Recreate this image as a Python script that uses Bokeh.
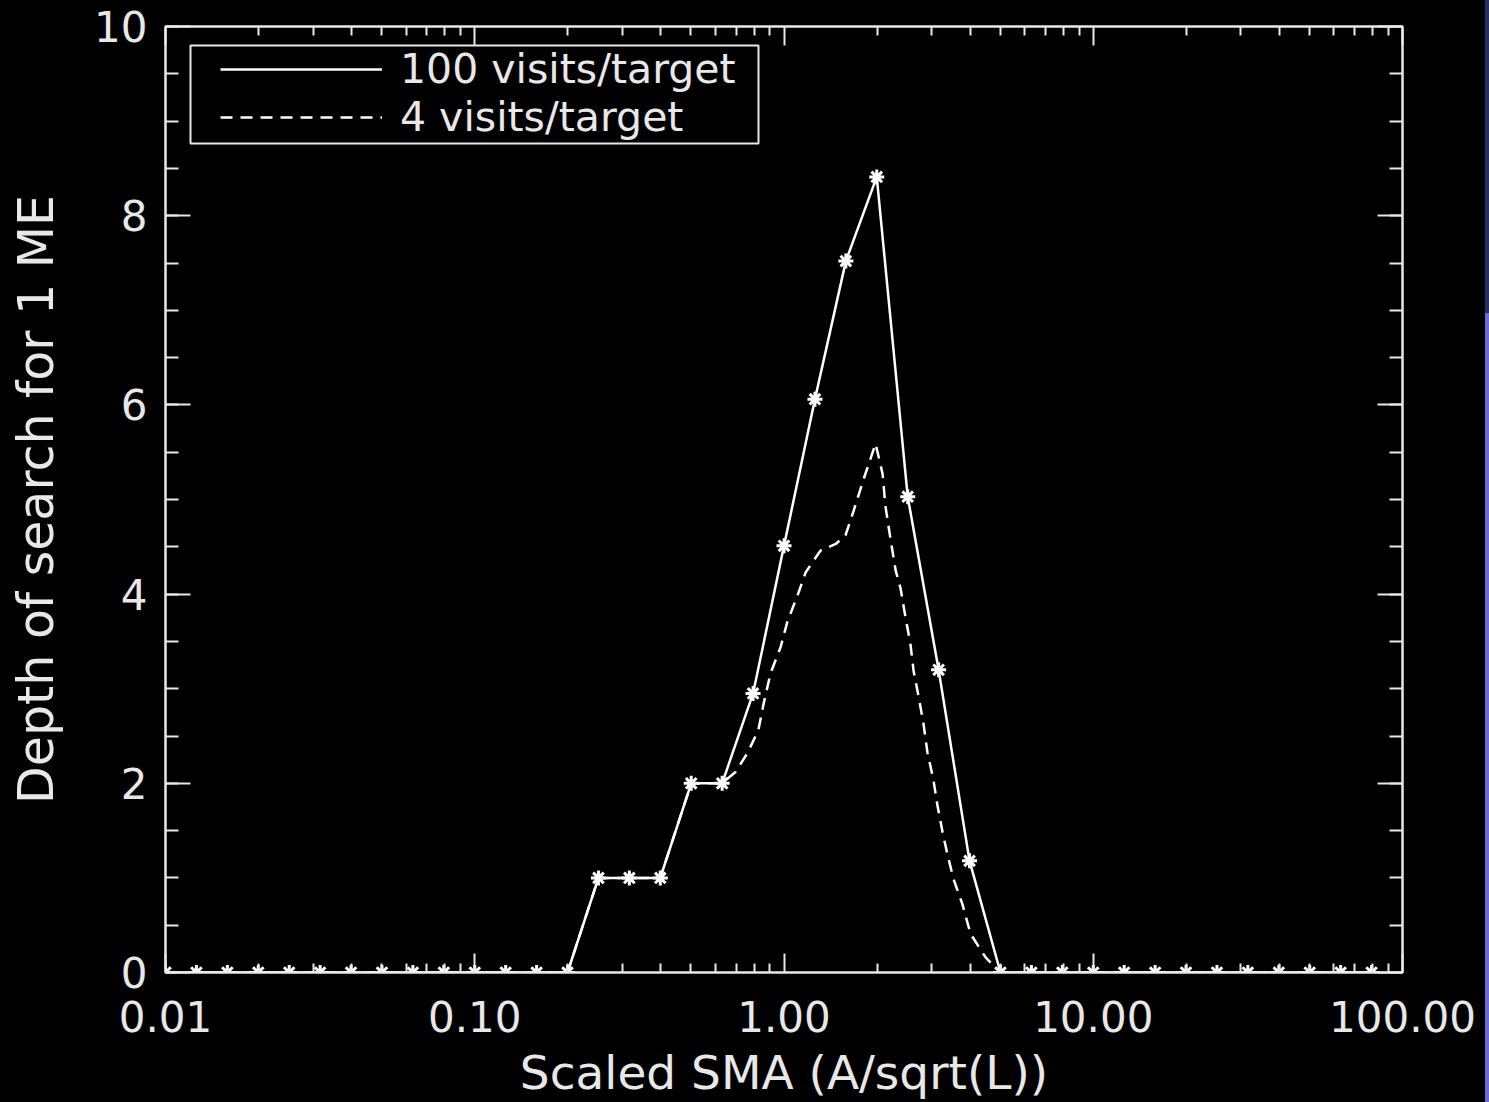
from bokeh.plotting import figure
from bokeh.models import (Range1d, LinearAxis, LogAxis, FixedTicker, SingleIntervalTicker,
                          CustomJSTickFormatter, Legend, LegendItem, BoxAnnotation)
from bokeh.embed import file_html
from bokeh.resources import INLINE

# ---------------- data ----------------
sma_100 = [0.01, 0.01259, 0.01585, 0.01995, 0.02512, 0.03162, 0.03981, 0.05012, 0.0631, 0.07943,
           0.1, 0.1259, 0.1585, 0.1995, 0.2512, 0.3162, 0.3981, 0.5012, 0.631, 0.7943,
           1.0, 1.259, 1.585, 1.995, 2.512, 3.162, 3.981, 5.012, 6.31, 7.943,
           10.0, 12.59, 15.85, 19.95, 25.12, 31.62, 39.81, 50.12, 63.1, 79.43]
depth_100 = [0, 0, 0, 0, 0, 0, 0, 0, 0, 0,
             0, 0, 0, 0, 1, 1, 1, 2, 2, 2.95,
             4.51, 6.06, 7.52, 8.41, 5.03, 3.20, 1.18, 0, 0, 0,
             0, 0, 0, 0, 0, 0, 0, 0, 0, 0]

sma_4 = [0.01, 0.01259, 0.01585, 0.01995, 0.02512, 0.03162, 0.03981, 0.05012, 0.0631, 0.07943,
         0.1, 0.1259, 0.1585, 0.1995, 0.2512, 0.3162, 0.3981, 0.5012, 0.631,
         0.697, 0.762, 0.826, 0.859, 0.904, 0.975, 1.026, 1.107, 1.175, 1.312,
         1.47, 1.581, 1.679, 1.807, 1.977, 2.084, 2.128, 2.208, 2.296, 2.382,
         2.472, 2.564, 2.624, 2.723, 2.825, 2.911, 3.041, 3.133, 3.258, 3.381,
         3.532, 3.776, 4.009, 4.487, 5.012, 6.31, 7.943,
         10.0, 12.59, 15.85, 19.95, 25.12, 31.62, 39.81, 50.12, 63.1, 79.43]
depth_4 = [0, 0, 0, 0, 0, 0, 0, 0, 0, 0,
           0, 0, 0, 0, 1, 1, 1, 2, 2,
           2.12, 2.32, 2.56, 2.84, 3.16, 3.44, 3.71, 3.99, 4.23, 4.46,
           4.53, 4.62, 4.88, 5.21, 5.59, 5.27, 4.93, 4.59, 4.25, 4.06,
           3.75, 3.47, 3.19, 2.92, 2.63, 2.32, 2.04, 1.77, 1.48, 1.24,
           0.99, 0.72, 0.41, 0.16, 0, 0, 0,
           0, 0, 0, 0, 0, 0, 0, 0, 0, 0]

x_ticks = [0.01, 0.1, 1.0, 10.0, 100.0]
x_tick_labels = ["0.01", "0.10", "1.00", "10.00", "100.00"]
series_labels = ["100 visits/target", "4 visits/target"]

# ---------------- style ----------------
FG = "#e8e8e8"
FONT = "DejaVu Sans"
FRAME_TOP, FRAME_BOTTOM = 26, 972

p = figure(width=1485, height=1102, x_axis_type="log",
           x_range=Range1d(0.01, 100), y_range=Range1d(0, 10),
           min_border_left=165, min_border_right=83, min_border_top=FRAME_TOP,
           min_border_bottom=1102 - FRAME_BOTTOM,
           output_backend="svg", toolbar_location=None,
           background_fill_color="black", border_fill_color="black")
p.grid.visible = False
p.outline_line_color = FG
p.outline_line_width = 2

minor_x = [m * 10.0 ** e for e in range(-2, 2) for m in range(2, 10)]
xticker = FixedTicker(ticks=x_ticks, minor_ticks=minor_x)
xfmt = CustomJSTickFormatter(args=dict(t=x_ticks, l=x_tick_labels), code="""
let best = 0, d = Infinity;
for (let i = 0; i < t.length; i++) { const dd = Math.abs(Math.log10(t[i]) - Math.log10(tick)); if (dd < d) { d = dd; best = i; } }
return l[best];
""")


def style_axis(ax, major_in, minor_in, labels=True):
    ax.axis_line_color = FG
    ax.axis_line_width = 2
    ax.major_tick_line_color = FG
    ax.minor_tick_line_color = FG
    ax.major_tick_line_width = 2
    ax.minor_tick_line_width = 2
    ax.major_tick_in = major_in
    ax.major_tick_out = 0
    ax.minor_tick_in = minor_in
    ax.minor_tick_out = 0
    ax.major_label_text_color = FG
    ax.major_label_text_font = FONT
    ax.major_label_text_font_size = "42px"
    if not labels:
        ax.major_label_text_alpha = 0
        ax.major_label_text_font_size = "2px"
    ax.axis_label_text_color = FG
    ax.axis_label_text_font = FONT
    ax.axis_label_text_font_size = "47px"
    ax.axis_label_text_font_style = "normal"


xa = p.xaxis[0]
xa.ticker = xticker
xa.formatter = xfmt
xa.axis_label = "Scaled SMA (A/sqrt(L))"
xa.major_label_standoff = 28
xa.axis_label_standoff = 10
style_axis(xa, 19, 9)

ya = p.yaxis[0]
ya.ticker = SingleIntervalTicker(interval=2, num_minor_ticks=4)
ya.axis_label = "Depth of search for 1 ME"
ya.major_label_standoff = 18
ya.axis_label_standoff = 26
style_axis(ya, 25, 13)
ya.axis_label_text_font_size = "49px"

ra = LinearAxis(ticker=SingleIntervalTicker(interval=2, num_minor_ticks=4))
style_axis(ra, 25, 13, labels=False)
ra.major_label_standoff = 0
p.add_layout(ra, "right")

ta = LogAxis(ticker=FixedTicker(ticks=x_ticks, minor_ticks=minor_x))
style_axis(ta, 19, 9, labels=False)
ta.major_label_standoff = 0
p.add_layout(ta, "above")

# ---------------- series ----------------
l100 = p.line(sma_100, depth_100, line_color="white", line_width=2.5)
p.scatter(sma_100, depth_100, marker="asterisk", size=15, line_color="white", line_width=3)
l4 = p.line(sma_4, depth_4, line_color="white", line_width=2.5, line_dash="12 8")

# ---------------- legend (IDL-style box) ----------------
# legend box in screen pixels relative to the frame's bottom-left corner
box = BoxAnnotation(left=25, right=593,
                    top=FRAME_BOTTOM - 45, bottom=FRAME_BOTTOM - 143,
                    left_units="screen", right_units="screen",
                    top_units="screen", bottom_units="screen",
                    fill_color="black", fill_alpha=1.0,
                    line_color=FG, line_width=2, line_alpha=1.0)
p.add_layout(box)

row_centres = [70, 118]
renderers = [l100, l4]
for lab, rend, yc in zip(series_labels, renderers, row_centres):
    lg = Legend(items=[LegendItem(label=lab, renderers=[rend])],
                location=(55, FRAME_BOTTOM - yc - 23), margin=0, padding=0, spacing=0,
                glyph_width=162, glyph_height=30, label_standoff=18,
                label_text_font=FONT, label_text_font_size="41px", label_text_color=FG,
                background_fill_alpha=0.0, border_line_alpha=0.0)
    p.add_layout(lg)

html = file_html(p, INLINE)
# page background: black, with the thin blue strip visible to the right of the figure
css = ("<style>html,body{margin:0;padding:0;min-height:1102px;"
       "background:linear-gradient(to right,#000 1485px,transparent 1485px),"
       "linear-gradient(to bottom,#283060 0px,#283060 313px,#6a6ad8 313px,#6a6ad8 100%);}</style>")
html = html.replace("</head>", css + "</head>", 1)
open("out.html", "w").write(html)
